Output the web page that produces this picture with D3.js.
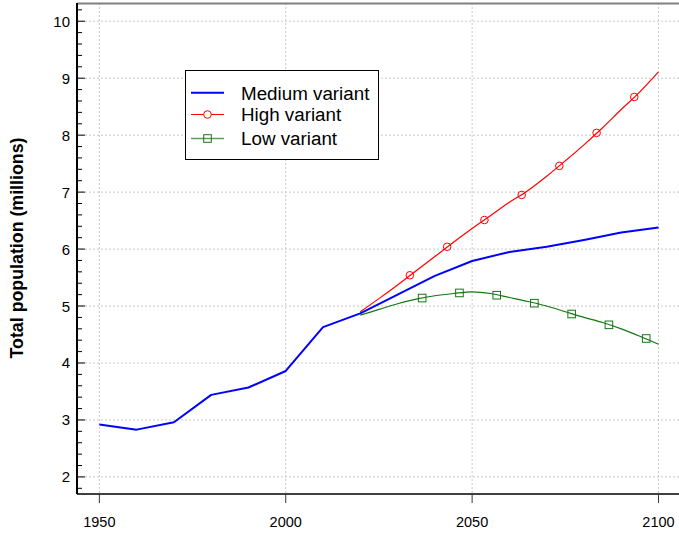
<!DOCTYPE html>
<html><head><meta charset="utf-8">
<script src="https://cdn.jsdelivr.net/npm/d3@7"></script>
<style>body{margin:0;background:#fff}svg{display:block;font-family:"Liberation Sans",Arial,sans-serif}</style>
</head><body><svg id="c" width="679" height="533"></svg>
<script>
const medYears = [1950,1960,1970,1980,1990,2000,2010,2020,2030,2040,2050,2060,2070,2080,2090,2100];
const medVals  = [2.92,2.83,2.96,3.44,3.57,3.86,4.63,4.87,5.20,5.53,5.79,5.95,6.04,6.16,6.29,6.38];
const projYears = [2020,2025,2030,2035,2040,2045,2050,2055,2060,2065,2070,2075,2080,2085,2090,2095,2100];
const highVals = [4.90,5.13,5.37,5.62,5.87,6.12,6.36,6.59,6.82,7.03,7.28,7.55,7.83,8.13,8.45,8.76,9.11];
const lowVals  = [4.84,4.94,5.04,5.12,5.18,5.22,5.25,5.22,5.15,5.08,5.00,4.90,4.80,4.71,4.60,4.47,4.33];
const highMarkYears = [2033.3,2043.3,2053.3,2063.3,2073.4,2083.4,2093.5];
const highMarkVals  = [5.54,6.04,6.51,6.95,7.46,8.04,8.67];
const lowMarkYears = [2036.6,2046.6,2056.6,2066.7,2076.7,2086.7,2096.7];
const lowMarkVals  = [5.14,5.23,5.19,5.05,4.86,4.67,4.43];
const xTicks = [1950,2000,2050,2100];
const yTicks = [2,3,4,5,6,7,8,9,10];
const seriesNames = ["Medium variant","High variant","Low variant"];

const svg = d3.select("#c");
const L=77,R=679,T=3,B=494;
const x = d3.scaleLinear().domain([1944,2105.5]).range([L,R]);
const y = d3.scaleLinear().domain([1.70,10.32]).range([B,T]);
const BLUE="#0000ff", RED="#ff0000", GREEN="#147814";

// grid
const g = svg.append("g");
g.selectAll(".gy").data(yTicks).enter().append("line")
 .attr("x1",L).attr("x2",R).attr("y1",d=>y(d)).attr("y2",d=>y(d))
 .attr("stroke","#c8c8c8").attr("stroke-dasharray","2,2").attr("stroke-width",1);
g.selectAll(".gx").data(xTicks).enter().append("line")
 .attr("y1",T).attr("y2",B).attr("x1",d=>x(d)).attr("x2",d=>x(d))
 .attr("stroke","#c8c8c8").attr("stroke-dasharray","2,2").attr("stroke-width",1);

// top border
svg.append("line").attr("x1",L).attr("x2",R).attr("y1",T+0.5).attr("y2",T+0.5).attr("stroke","#808080").attr("stroke-width",2);

// lines
const line = d3.line().x(d=>x(d[0])).y(d=>y(d[1]));
const curve = d3.line().x(d=>x(d[0])).y(d=>y(d[1])).curve(d3.curveMonotoneX);
svg.append("path").attr("d",curve(d3.zip(projYears,lowVals))).attr("fill","none").attr("stroke",GREEN).attr("stroke-width",1.2);
svg.append("path").attr("d",curve(d3.zip(projYears,highVals))).attr("fill","none").attr("stroke",RED).attr("stroke-width",1.2);
svg.append("path").attr("d",line(d3.zip(medYears,medVals))).attr("fill","none").attr("stroke",BLUE).attr("stroke-width",2).attr("stroke-linejoin","round");

// markers
svg.selectAll(".hm").data(d3.zip(highMarkYears,highMarkVals)).enter().append("circle")
 .attr("cx",d=>x(d[0])).attr("cy",d=>y(d[1])).attr("r",3.8)
 .attr("fill","none").attr("stroke",RED).attr("stroke-width",1);
svg.selectAll(".lm").data(d3.zip(lowMarkYears,lowMarkVals)).enter().append("rect")
 .attr("x",d=>x(d[0])-3.8).attr("y",d=>y(d[1])-3.8).attr("width",7.6).attr("height",7.6)
 .attr("fill","none").attr("stroke",GREEN).attr("stroke-width",1);

// left axis
const yAx = svg.append("g").attr("transform",`translate(${L},0)`);
const minor = d3.range(18,103,2).map(v=>v/10).filter(v=>Math.abs(v-Math.round(v))>1e-6);
yAx.selectAll(".mn").data(minor).enter().append("line")
 .attr("x1",0).attr("x2",5).attr("y1",d=>y(d)).attr("y2",d=>y(d)).attr("stroke","#000").attr("stroke-width",1);
yAx.selectAll(".mj").data(yTicks).enter().append("line")
 .attr("x1",0).attr("x2",8).attr("y1",d=>y(d)).attr("y2",d=>y(d)).attr("stroke","#000").attr("stroke-width",1);
yAx.selectAll(".yl").data(yTicks).enter().append("text")
 .attr("x",-7).attr("y",d=>y(d)+5.5).attr("text-anchor","end").attr("font-size",15).attr("fill","#000").text(d=>d);
yAx.append("line").attr("x1",0).attr("x2",0).attr("y1",T).attr("y2",B).attr("stroke","#000").attr("stroke-width",2);

// bottom axis
const xAx = svg.append("g").attr("transform",`translate(0,${B})`);
xAx.append("line").attr("x1",L).attr("x2",R).attr("y1",0).attr("y2",0).attr("stroke","#000").attr("stroke-width",1.5);
xAx.selectAll(".xt").data(xTicks).enter().append("line")
 .attr("x1",d=>x(d)).attr("x2",d=>x(d)).attr("y1",0).attr("y2",9).attr("stroke","#333").attr("stroke-width",1);
xAx.selectAll(".xl").data(xTicks).enter().append("text")
 .attr("x",d=>x(d)).attr("y",33).attr("text-anchor","middle").attr("font-size",14.5).attr("fill","#000").text(d=>d);

// y label
svg.append("text").attr("transform","translate(23,248) rotate(-90)").attr("text-anchor","middle")
 .attr("font-size",17.8).attr("font-weight","bold").text("Total population (millions)");

// legend
const lg = svg.append("g");
lg.append("rect").attr("x",185.5).attr("y",70.5).attr("width",193).attr("height",89).attr("fill","#fff").attr("stroke","#000").attr("stroke-width",1);
const rows = [92.7,114.5,138.5];
const cols = [BLUE,RED,GREEN];
rows.forEach((ry,i)=>{
  lg.append("line").attr("x1",191).attr("x2",224).attr("y1",ry).attr("y2",ry)
    .attr("stroke",cols[i]).attr("stroke-width",i===0?2:(i===2?1.6:1)).attr("stroke-opacity",i===2?0.7:1);
  if(i===1) lg.append("circle").attr("cx",207.5).attr("cy",ry).attr("r",3.8).attr("fill","#fff").attr("stroke",RED);
  if(i===2) lg.append("rect").attr("x",203.7).attr("y",ry-3.8).attr("width",7.6).attr("height",7.6).attr("fill","none").attr("stroke",GREEN);
  lg.append("text").attr("x",241).attr("y",ry+6.8).attr("font-size",18.8).attr("fill","#000").text(seriesNames[i]);
});
</script></body></html>
